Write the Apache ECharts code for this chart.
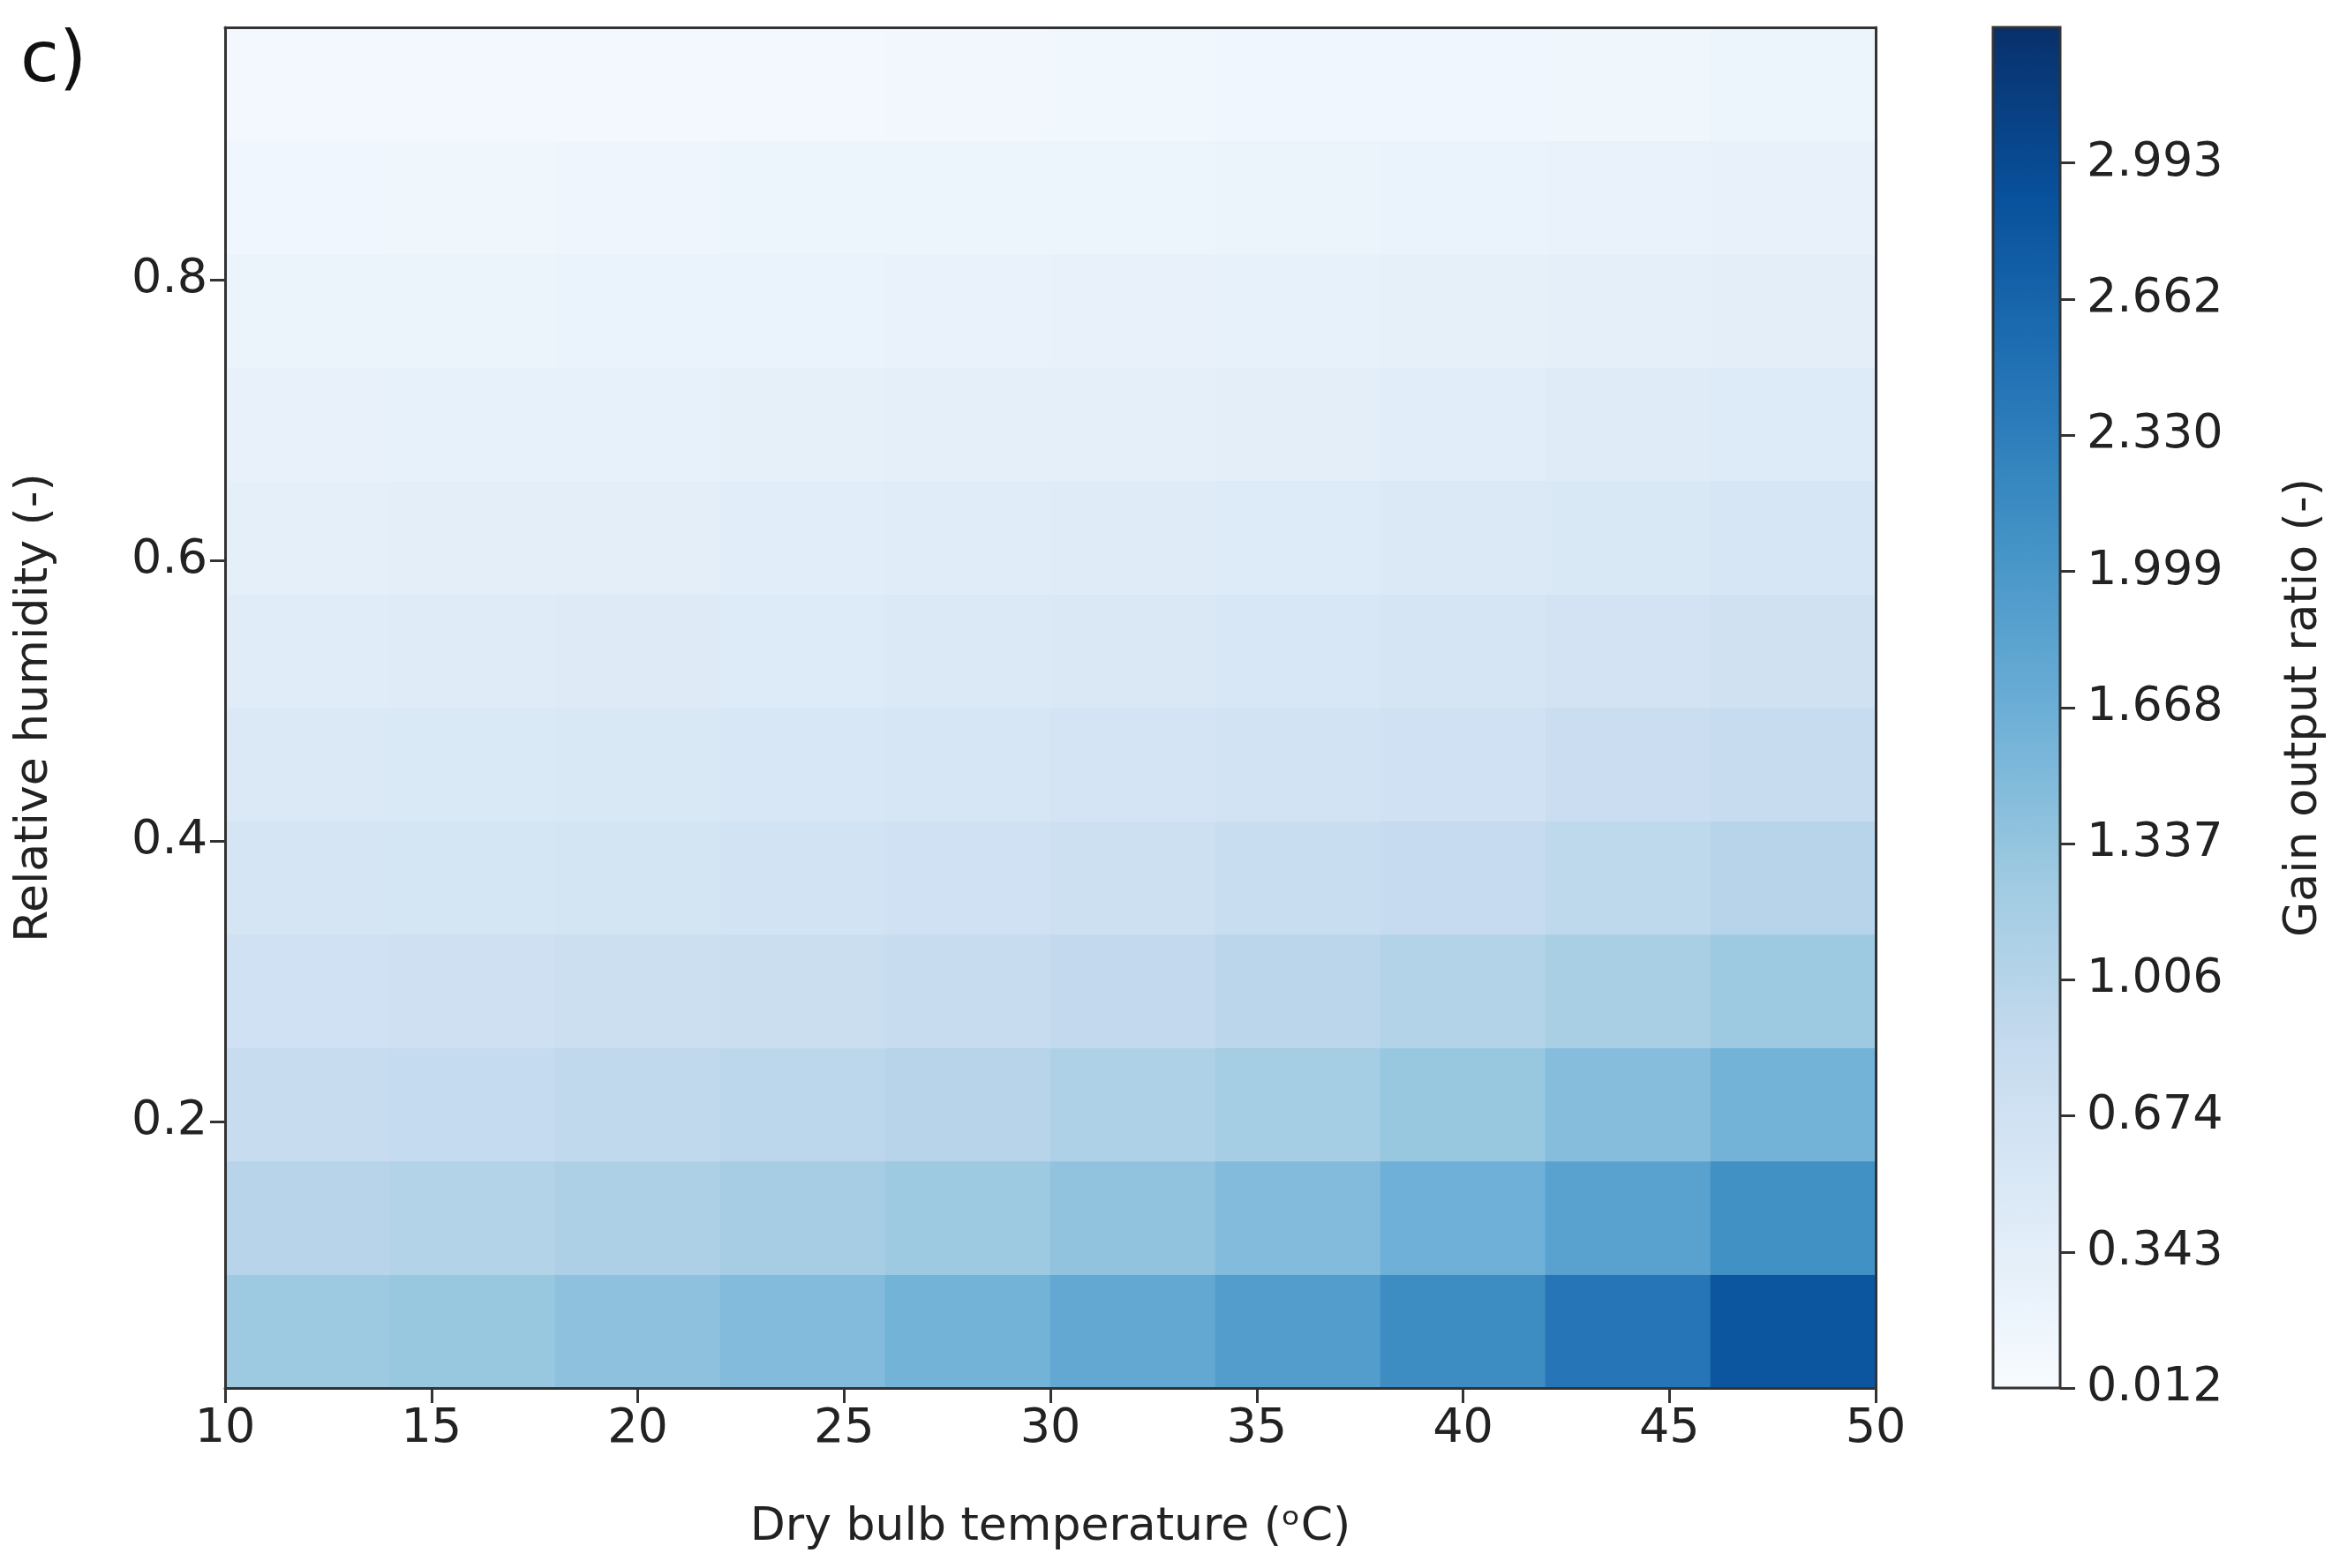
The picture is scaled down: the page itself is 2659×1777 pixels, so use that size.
<!DOCTYPE html>
<html>
<head>
<meta charset="utf-8">
<script src="https://cdn.jsdelivr.net/npm/echarts@6/dist/echarts.min.js"></script>
<style>html,body{margin:0;padding:0;background:#fff}#c{width:2659px;height:1777px}</style>
</head>
<body>
<div id="c"></div>
<script>
// cell centres (temperature, C) and relative humidity rows, bottom to top
var temps = [12, 16, 20, 24, 28, 32, 36, 40, 44, 48];
var rhRows = [0.05, 0.13, 0.21, 0.29, 0.37, 0.45, 0.53, 0.61, 0.70, 0.78, 0.86, 0.94];
// gain output ratio, one row per rhRows entry, columns follow temps
var gain = [
  [1.25, 1.30, 1.38, 1.48, 1.60, 1.75, 1.92, 2.15, 2.45, 2.85],
  [1.00, 1.04, 1.10, 1.17, 1.26, 1.36, 1.48, 1.64, 1.85, 2.10],
  [0.82, 0.85, 0.89, 0.94, 1.00, 1.08, 1.18, 1.30, 1.45, 1.60],
  [0.68, 0.70, 0.73, 0.77, 0.82, 0.88, 0.95, 1.04, 1.14, 1.25],
  [0.57, 0.59, 0.61, 0.64, 0.68, 0.72, 0.78, 0.84, 0.92, 1.00],
  [0.48, 0.49, 0.51, 0.53, 0.56, 0.60, 0.64, 0.69, 0.75, 0.81],
  [0.40, 0.41, 0.43, 0.45, 0.47, 0.50, 0.53, 0.57, 0.62, 0.67],
  [0.33, 0.34, 0.35, 0.37, 0.39, 0.41, 0.44, 0.47, 0.51, 0.55],
  [0.26, 0.27, 0.28, 0.30, 0.31, 0.33, 0.35, 0.38, 0.41, 0.44],
  [0.20, 0.21, 0.22, 0.23, 0.24, 0.26, 0.28, 0.30, 0.32, 0.35],
  [0.14, 0.15, 0.16, 0.17, 0.18, 0.19, 0.21, 0.22, 0.24, 0.26],
  [0.08, 0.09, 0.09, 0.10, 0.11, 0.12, 0.13, 0.14, 0.15, 0.17]
];
var rhTicks = [0.2, 0.4, 0.6, 0.8];
var cbarTicks = [0.012, 0.343, 0.674, 1.006, 1.337, 1.668, 1.999, 2.330, 2.662, 2.993];
var gMin = 0.012, gMax = 3.323;
var blues = ['#f7fbff', '#deebf7', '#c6dbef', '#9ecae1', '#6baed6', '#4292c6', '#2171b5', '#08519c', '#08306b'];

var cells = [];
for (var r = 0; r < rhRows.length; r++) {
  for (var c = 0; c < temps.length; c++) cells.push([c, r, gain[r][c]]);
}

var font = 'DejaVu Sans';
var lbl = {fontSize: 54, color: '#222', fontFamily: font};
var line = {show: true, lineStyle: {color: '#333', width: 3}};
var tick = {show: true, inside: false, length: 17, lineStyle: {color: '#333', width: 3}};
var rect = {left: 255, top: 31, width: 1870, height: 1542};

var stops = blues.map(function (col, i) { return {offset: 1 - i / (blues.length - 1), color: col}; });

var option = {
  backgroundColor: '#fff',
  animation: false,
  textStyle: {fontFamily: font},
  title: {text: 'c)', left: 18, top: 26, textStyle: {fontSize: 80, fontWeight: 'normal', color: '#111', fontFamily: font}},
  grid: [
    Object.assign({}, rect),
    Object.assign({}, rect),
    {left: 2258, top: 31, width: 76, height: 1542, show: true, borderColor: '#333', borderWidth: 3, z: 10}
  ],
  visualMap: {show: false, seriesIndex: 0, min: gMin, max: gMax, inRange: {color: blues}},
  xAxis: [
    {gridIndex: 0, type: 'category', data: temps, show: false},
    {gridIndex: 1, type: 'value', min: 10, max: 50, interval: 5, z: 10,
     axisLine: line, axisTick: tick, axisLabel: Object.assign({margin: 20}, lbl), splitLine: {show: false},
     name: 'Dry bulb temperature (\u1d52C)', nameLocation: 'middle', nameGap: 132,
     nameTextStyle: {fontSize: 52, color: '#222', fontFamily: font}},
    {gridIndex: 1, type: 'value', position: 'top', min: 10, max: 50, z: 10,
     axisLine: line, axisTick: {show: false}, axisLabel: {show: false}, splitLine: {show: false}},
    {gridIndex: 2, type: 'category', data: ['g'], show: false}
  ],
  yAxis: [
    {gridIndex: 0, type: 'category', data: rhRows, show: false},
    {gridIndex: 1, type: 'value', min: 0.01, max: 0.98, z: 10,
     axisLine: line,
     axisTick: Object.assign({customValues: rhTicks}, tick),
     axisLabel: Object.assign({customValues: rhTicks, margin: 20, formatter: function (v) { return v.toFixed(1); }}, lbl),
     splitLine: {show: false},
     name: 'Relative humidity (-)', nameLocation: 'middle', nameGap: 190,
     nameTextStyle: {fontSize: 52, color: '#222', fontFamily: font}},
    {gridIndex: 1, type: 'value', position: 'right', min: 0.01, max: 0.98, z: 10,
     axisLine: line, axisTick: {show: false}, axisLabel: {show: false}, splitLine: {show: false}},
    {gridIndex: 2, type: 'value', position: 'right', min: gMin, max: gMax, z: 10,
     axisLine: {show: false},
     axisTick: Object.assign({customValues: cbarTicks}, tick),
     axisLabel: Object.assign({customValues: cbarTicks, margin: 30, formatter: function (v) { return v.toFixed(3); }}, lbl),
     splitLine: {show: false},
     name: 'Gain output ratio (-)', nameLocation: 'middle', nameGap: 250, nameRotate: 90,
     nameTextStyle: {fontSize: 52, color: '#222', fontFamily: font}}
  ],
  series: [
    {type: 'heatmap', xAxisIndex: 0, yAxisIndex: 0, data: cells, itemStyle: {borderWidth: 0}},
    {type: 'bar', xAxisIndex: 3, yAxisIndex: 3, data: [gMax], barWidth: '100%', silent: true,
     itemStyle: {color: new echarts.graphic.LinearGradient(0, 0, 0, 1, stops)}}
  ]
};

echarts.init(document.getElementById('c')).setOption(option);
</script>
</body>
</html>
